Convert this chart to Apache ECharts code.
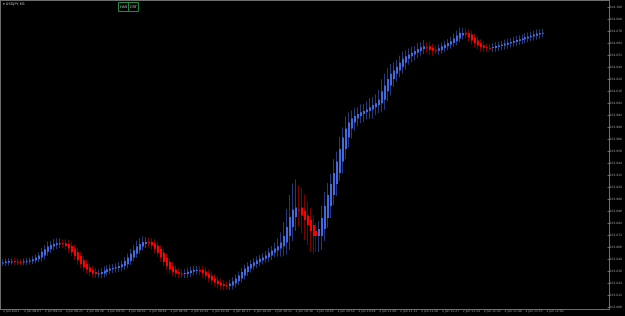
<!DOCTYPE html>
<html><head><meta charset="utf-8">
<script src="https://cdn.jsdelivr.net/npm/echarts@6/dist/echarts.min.js"></script>
<style>html,body{margin:0;padding:0;background:#000;}#c{width:625px;height:316px;}</style>
</head><body><div id="c"></div>
<script>
const symbolTitle = 'USDJPY,M1';
const buttonLabels = ['HAS', 'CRT'];
const xLabels = ['2 Jun 2021','2 Jun 09:07','2 Jun 09:14','2 Jun 09:21','2 Jun 09:28','2 Jun 09:35','2 Jun 09:42','2 Jun 09:49','2 Jun 09:56','2 Jun 10:03','2 Jun 10:10','2 Jun 10:17','2 Jun 10:24','2 Jun 10:31','2 Jun 10:38','2 Jun 10:45','2 Jun 10:52','2 Jun 10:59','2 Jun 11:06','2 Jun 11:13','2 Jun 11:20','2 Jun 11:27','2 Jun 11:34','2 Jun 11:41','2 Jun 11:48','2 Jun 11:55','2 Jun 12:02'];
const labelEvery = 7;
const slotCount = 203;
const priceMin = 103.800, priceMax = 104.107, priceStep = 0.012;

const haOpen = [
103.844,103.844,103.8446,103.8454,103.8459,103.8456,103.8453,103.845,103.8452,103.8455,
103.8458,103.8466,103.8478,103.8495,103.8516,103.8552,103.8578,103.8606,103.862,103.8631,
103.8637,103.8637,103.8631,103.861,103.8584,103.8548,103.8509,103.8467,103.843,103.8396,
103.8372,103.8351,103.8333,103.833,103.8334,103.8351,103.8366,103.8378,103.8385,103.8391,
103.8397,103.8409,103.8427,103.846,103.8496,103.8532,103.8568,103.8604,103.863,103.865,
103.865,103.8638,103.8614,103.858,103.8542,103.8494,103.8449,103.8407,103.8375,103.8348,
103.8336,103.833,103.833,103.834,103.8352,103.8364,103.837,103.837,103.8355,103.8336,
103.8312,103.8288,103.8264,103.8245,103.8228,103.8216,103.821,103.8215,103.8234,103.8258,
103.8285,103.8315,103.835,103.8384,103.8408,103.8429,103.8447,103.8465,103.8482,103.8494,
103.8515,103.8545,103.8565,103.8584,103.8608,103.8645,103.871,103.88,103.89,103.8975,
103.8995,103.8965,103.8915,103.887,103.882,103.876,103.871,103.871,103.878,103.889,
103.901,103.912,103.923,103.934,103.9455,103.958,103.9695,103.9785,103.9845,103.9885,
103.991,103.9929,103.9947,103.996,103.9974,103.9998,104.0019,104.0037,104.0073,104.0157,
104.0215,104.028,104.0332,104.0365,104.0403,104.0443,104.0483,104.0507,104.0525,104.0543,
104.0561,104.0579,104.0597,104.0608,104.0593,104.0573,104.0562,104.0568,104.0587,104.0607,
104.0622,104.0639,104.0657,104.0685,104.0715,104.0742,104.074,104.0725,104.0695,104.0665,
104.0637,104.0617,104.0598,104.0592,104.059,104.0591,104.0601,104.0609,104.0615,104.0622,
104.0634,104.0643,104.0649,104.066,104.0671,104.0677,104.0686,104.0698,104.0705,104.0712,
104.0724,104.0735];

const haClose = [
103.8446,103.8454,103.8459,103.8456,103.8453,103.845,103.8452,103.8455,103.8458,103.8466,
103.8478,103.8495,103.8516,103.8552,103.8578,103.8606,103.862,103.8631,103.8637,103.8637,
103.8631,103.861,103.8584,103.8548,103.8509,103.8467,103.843,103.8396,103.8372,103.8351,
103.8333,103.833,103.8334,103.8351,103.8366,103.8378,103.8385,103.8391,103.8397,103.8409,
103.8427,103.846,103.8496,103.8532,103.8568,103.8604,103.863,103.865,103.865,103.8638,
103.8614,103.858,103.8542,103.8494,103.8449,103.8407,103.8375,103.8348,103.8336,103.833,
103.833,103.834,103.8352,103.8364,103.837,103.837,103.8355,103.8336,103.8312,103.8288,
103.8264,103.8245,103.8228,103.8216,103.821,103.8215,103.8234,103.8258,103.8285,103.8315,
103.835,103.8384,103.8408,103.8429,103.8447,103.8465,103.8482,103.8494,103.8515,103.8545,
103.8565,103.8584,103.8608,103.8645,103.871,103.88,103.89,103.8975,103.8995,103.8965,
103.8915,103.887,103.882,103.876,103.871,103.871,103.878,103.889,103.901,103.912,
103.923,103.934,103.9455,103.958,103.9695,103.9785,103.9845,103.9885,103.991,103.9929,
103.9947,103.996,103.9974,103.9998,104.0019,104.0037,104.0073,104.0157,104.0215,104.028,
104.0332,104.0365,104.0403,104.0443,104.0483,104.0507,104.0525,104.0543,104.0561,104.0579,
104.0597,104.0608,104.0593,104.0573,104.0562,104.0568,104.0587,104.0607,104.0622,104.0639,
104.0657,104.0685,104.0715,104.0742,104.074,104.0725,104.0695,104.0665,104.0637,104.0617,
104.0598,104.0592,104.059,104.0591,104.0601,104.0609,104.0615,104.0622,104.0634,104.0643,
104.0649,104.066,104.0671,104.0677,104.0686,104.0698,104.0705,104.0712,104.0724,104.0735,
104.0739,104.0742];

const haHigh = [
103.8476,103.8484,103.8489,103.8486,103.8489,103.8486,103.8483,103.8485,103.8488,103.8496,
103.8508,103.8525,103.8546,103.8592,103.8618,103.8656,103.866,103.8681,103.8687,103.8687,
103.8677,103.8677,103.8671,103.865,103.8624,103.8588,103.8549,103.8507,103.847,103.8436,
103.8412,103.8391,103.8374,103.8391,103.8406,103.8418,103.8425,103.8431,103.8437,103.8449,
103.8467,103.85,103.8536,103.8582,103.8618,103.8664,103.869,103.8705,103.87,103.869,
103.869,103.8678,103.8654,103.862,103.8582,103.8534,103.8489,103.8447,103.8415,103.8388,
103.8376,103.838,103.8392,103.8404,103.841,103.841,103.841,103.841,103.8395,103.8376,
103.8352,103.8328,103.8304,103.8285,103.8268,103.8256,103.8274,103.8298,103.8325,103.8355,
103.839,103.8424,103.8448,103.8469,103.8487,103.8505,103.8522,103.8539,103.856,103.859,
103.861,103.8644,103.8688,103.8745,103.885,103.898,103.912,103.9235,103.9275,103.9215,
103.9195,103.9125,103.9055,103.899,103.892,103.884,103.886,103.901,103.915,103.924,
103.933,103.948,103.9555,103.97,103.9795,103.9905,103.9945,103.9965,103.999,103.9999,
104.0027,104.003,104.0054,104.0088,104.0099,104.0127,104.0173,104.0277,104.0335,104.039,
104.0432,104.0445,104.0473,104.0513,104.0553,104.0567,104.0585,104.0603,104.0611,104.0639,
104.0647,104.0668,104.0647,104.0658,104.0633,104.0613,104.0627,104.0647,104.0662,104.0679,
104.0702,104.0735,104.0765,104.0792,104.079,104.0787,104.078,104.0765,104.0735,104.0705,
104.0677,104.0657,104.0638,104.0632,104.0641,104.0649,104.0655,104.0662,104.0674,104.0683,
104.0689,104.07,104.0711,104.0717,104.0726,104.0738,104.0745,104.0752,104.0764,104.0775,
104.0779,104.0782];

const haLow = [
103.841,103.841,103.8416,103.8424,103.8423,103.842,103.8422,103.842,103.8422,103.8425,
103.8428,103.8436,103.8448,103.8455,103.8476,103.8512,103.8538,103.8566,103.858,103.8591,
103.8591,103.857,103.8544,103.8508,103.8469,103.8422,103.839,103.8356,103.8332,103.8311,
103.8293,103.829,103.8293,103.829,103.8294,103.8311,103.8326,103.8338,103.8345,103.8351,
103.8357,103.8369,103.8387,103.842,103.8456,103.8492,103.8528,103.8564,103.859,103.8598,
103.8574,103.854,103.8502,103.8454,103.8409,103.8367,103.8335,103.8308,103.8296,103.829,
103.829,103.829,103.829,103.83,103.8312,103.8324,103.8315,103.8296,103.8272,103.8248,
103.8224,103.8205,103.8188,103.8176,103.817,103.8175,103.817,103.8175,103.8194,103.8218,
103.8245,103.8275,103.831,103.8344,103.8368,103.8389,103.8407,103.8425,103.8442,103.8449,
103.847,103.8495,103.8505,103.8504,103.8508,103.8525,103.857,103.866,103.876,103.8805,
103.8735,103.867,103.862,103.856,103.853,103.855,103.855,103.857,103.866,103.879,
103.889,103.902,103.911,103.926,103.9335,103.948,103.9595,103.9685,103.9765,103.9805,
103.984,103.9849,103.9877,103.988,103.9884,103.9918,103.9939,103.9947,103.9973,104.0057,
104.0115,104.02,104.0252,104.0295,104.0333,104.0373,104.0423,104.0447,104.0465,104.0493,
104.0511,104.0529,104.0543,104.0523,104.0512,104.0528,104.0522,104.0528,104.0547,104.0567,
104.0582,104.0599,104.0617,104.0645,104.0675,104.0685,104.0655,104.0625,104.0597,104.0577,
104.0558,104.0552,104.055,104.0551,104.055,104.0551,104.0561,104.0569,104.0575,104.0582,
104.0594,104.0603,104.0609,104.062,104.0631,104.0637,104.0646,104.0658,104.0665,104.0672,
104.0684,104.0695];

const bodyUp = '#4169e1', bodyDn = '#ff0000', wickUp = '#24397e', wickDn = '#7a0000';
const frameColor = '#6e6e6e', textColor = '#9a9a9a';

const slots = Array.from({length: slotCount}, (_, i) => i);
const bars = haOpen.map((o, i) => [i, o, haClose[i], haLow[i], haHigh[i]]);

const chart = echarts.init(document.getElementById('c'), null, {renderer: 'canvas'});
chart.setOption({
  backgroundColor: '#000000',
  animation: false,
  grid: {left: 0, right: 15, top: 0, bottom: 9, containLabel: false},
  xAxis: {
    type: 'category', data: slots, boundaryGap: true,
    axisLine: {show: false}, axisTick: {show: false}, splitLine: {show: false},
    axisLabel: {
      interval: (i) => i % labelEvery === 0 && i / labelEvery < xLabels.length,
      formatter: (v, i) => xLabels[i / labelEvery] || '',
      fontSize: 3, color: textColor, align: 'left', margin: 3, fontFamily: 'DejaVu Sans'
    }
  },
  yAxis: {
    type: 'value', position: 'right', min: priceMin, max: priceMax, interval: priceStep,
    axisLine: {show: false}, splitLine: {show: false},
    axisTick: {show: true, length: 2, lineStyle: {color: frameColor}},
    axisLabel: {showMaxLabel: false, formatter: (v) => v.toFixed(3), fontSize: 3, color: textColor, margin: 2, fontFamily: 'DejaVu Sans'}
  },
  series: [{
    type: 'custom',
    data: bars,
    encode: {x: 0, y: [1, 2, 3, 4]},
    clip: false,
    renderItem: function (params, api) {
      const idx = api.value(0);
      const o = api.value(1), c = api.value(2), l = api.value(3), h = api.value(4);
      const pO = api.coord([idx, o]), pC = api.coord([idx, c]);
      const pL = api.coord([idx, l]), pH = api.coord([idx, h]);
      const x = Math.round(pO[0]);
      const up = c >= o;
      const top = Math.min(pO[1], pC[1]);
      const bh = Math.max(1, Math.abs(pC[1] - pO[1]));
      return {type: 'group', children: [
        {type: 'line', shape: {x1: x - 0.5, y1: pH[1], x2: x - 0.5, y2: pL[1]}, style: {stroke: up ? wickUp : wickDn, lineWidth: 1}},
        {type: 'rect', shape: {x: x - 1, y: top, width: 2, height: bh}, style: {fill: up ? bodyUp : bodyDn}}
      ]};
    }
  }],
  graphic: [
    {type: 'line', shape: {x1: 0.5, y1: 0, x2: 0.5, y2: 310}, style: {stroke: frameColor, lineWidth: 1}, silent: true},
    {type: 'line', shape: {x1: 0, y1: 0.5, x2: 610, y2: 0.5}, style: {stroke: frameColor, lineWidth: 1}, silent: true},
    {type: 'line', shape: {x1: 609.5, y1: 0, x2: 609.5, y2: 310}, style: {stroke: frameColor, lineWidth: 1}, silent: true},
    {type: 'line', shape: {x1: 0, y1: 309.5, x2: 610, y2: 309.5}, style: {stroke: frameColor, lineWidth: 1}, silent: true},
    {type: 'text', left: 3, top: 2, style: {text: '\u25BE ' + symbolTitle, fontSize: 3.5, fill: '#bdbdbd', fontFamily: 'DejaVu Sans'}},
    {type: 'rect', shape: {x: 118.5, y: 2.5, width: 10, height: 9}, style: {fill: 'none', stroke: '#1f8a46', lineWidth: 1}},
    {type: 'rect', shape: {x: 128.5, y: 2.5, width: 10, height: 9}, style: {fill: 'none', stroke: '#1f8a46', lineWidth: 1}},
    {type: 'text', x: 123.5, y: 7, style: {text: buttonLabels[0], fontSize: 3.5, fill: '#cfcfcf', align: 'center', verticalAlign: 'middle', fontFamily: 'DejaVu Sans'}},
    {type: 'text', x: 133.5, y: 7, style: {text: buttonLabels[1], fontSize: 3.5, fill: '#cfcfcf', align: 'center', verticalAlign: 'middle', fontFamily: 'DejaVu Sans'}}
  ]
});
</script>
</body></html>
